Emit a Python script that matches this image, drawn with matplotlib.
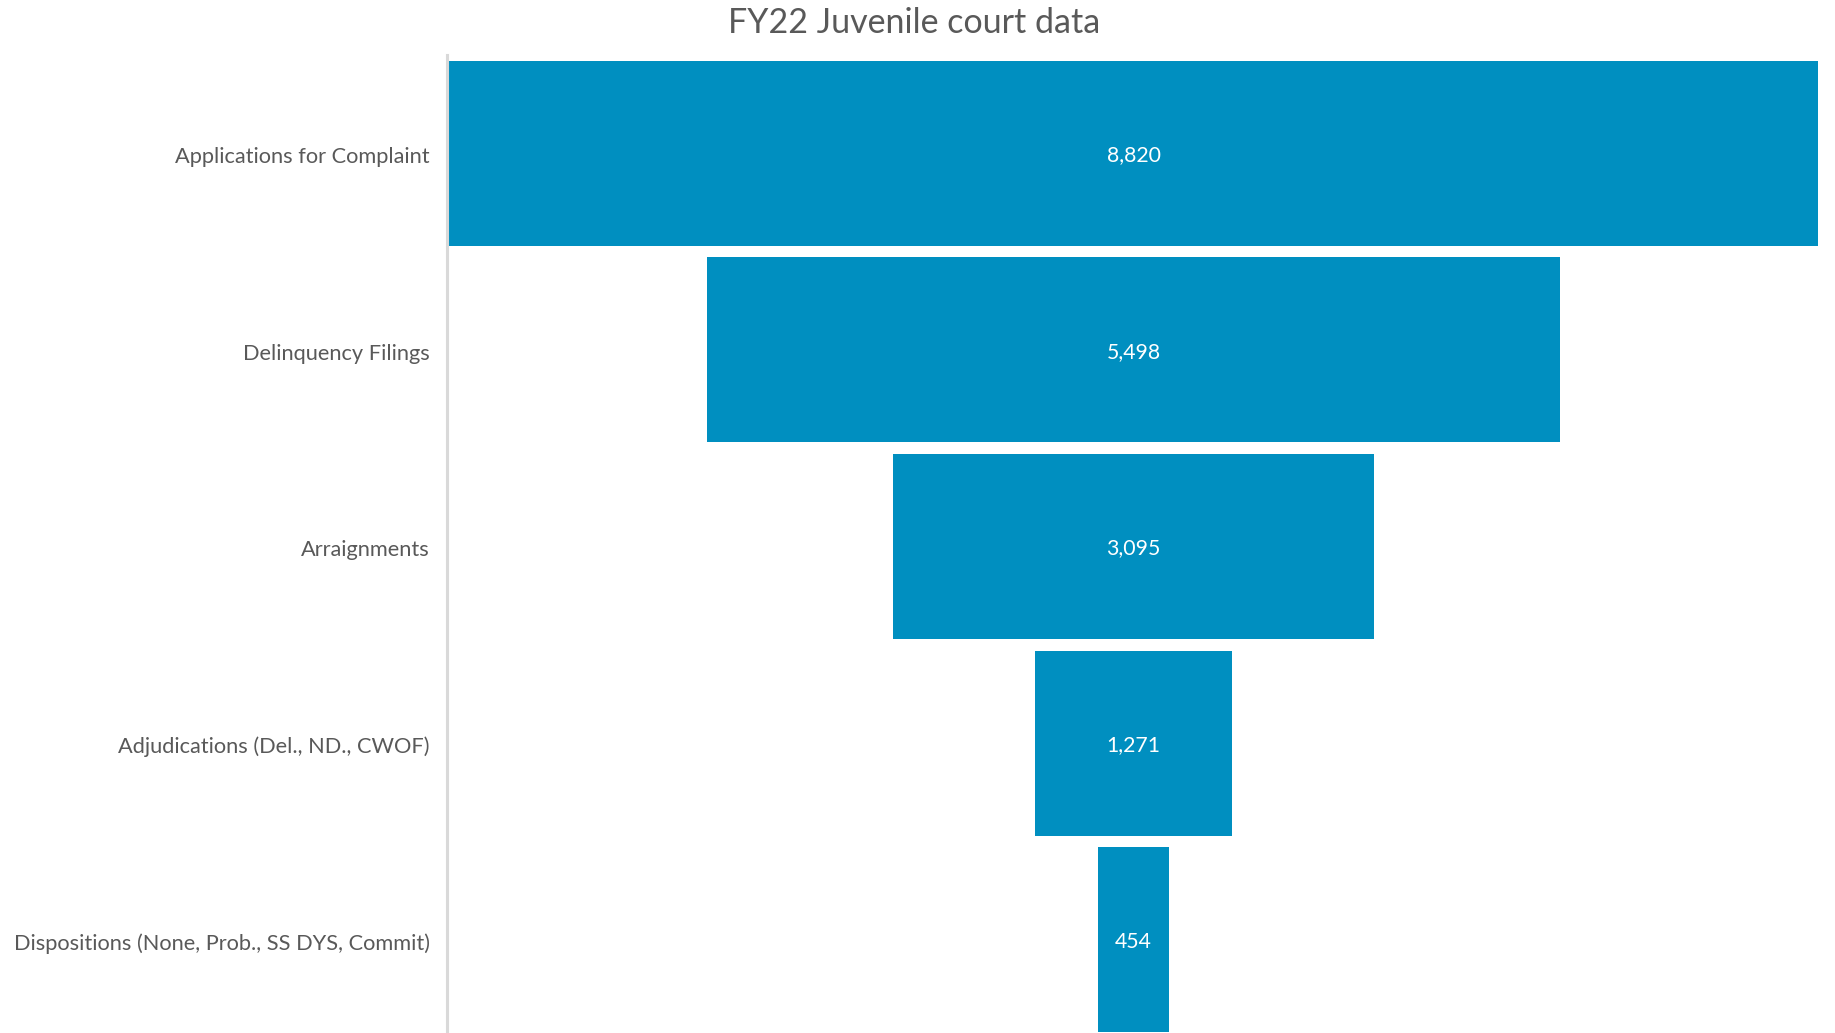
import matplotlib
matplotlib.use("Agg")
import matplotlib.pyplot as plt

categories = [
    "Applications for Complaint",
    "Delinquency Filings",
    "Arraignments",
    "Adjudications (Del., ND., CWOF)",
    "Dispositions (None, Prob., SS DYS, Commit)",
]
values = [8820, 5498, 3095, 1271, 454]
title = "FY22 Juvenile court data"

bar_color = "#008FC0"
text_color = "#595959"
plt.rcParams["font.family"] = ["Lato", "DejaVu Sans"]

W, H = 1835, 1033
fig = plt.figure(figsize=(W / 100, H / 100), dpi=100)
left_px, right_px = 449, 1818
top_px, bot_px = 55, 1038
ax = fig.add_axes([left_px / W, 1 - bot_px / H, (right_px - left_px) / W, (bot_px - top_px) / H])

for s in ["top", "right", "bottom"]:
    ax.spines[s].set_visible(False)
ax.spines["left"].set_color("#d9d9d9")
ax.spines["left"].set_linewidth(2.2)
ax.spines["left"].set_position(("outward", 1.5))

vmax = max(values)
ypos = list(range(len(values)))
lefts = [-v / 2 for v in values]
ax.barh(ypos, values, left=lefts, height=0.941, color=bar_color, edgecolor="none")
for y, v in zip(ypos, values):
    ax.text(0, y + 0.01, f"{v:,}", ha="center", va="center", color="white", fontsize=15.3)

ax.set_xlim(-vmax / 2, vmax / 2)
ax.set_ylim(len(values) - 0.5, -0.5)
ax.set_yticks([y + 0.01 for y in ypos])
ax.set_yticklabels(categories)
ax.tick_params(axis="y", length=0, pad=12.3, labelsize=15.7, labelcolor=text_color)
ax.set_xticks([])

fig.text(914.6 / W, 1 - 23 / H, title, ha="center", va="center", fontsize=24.5, color=text_color)

fig.savefig("out.png", dpi=100, facecolor="white")
